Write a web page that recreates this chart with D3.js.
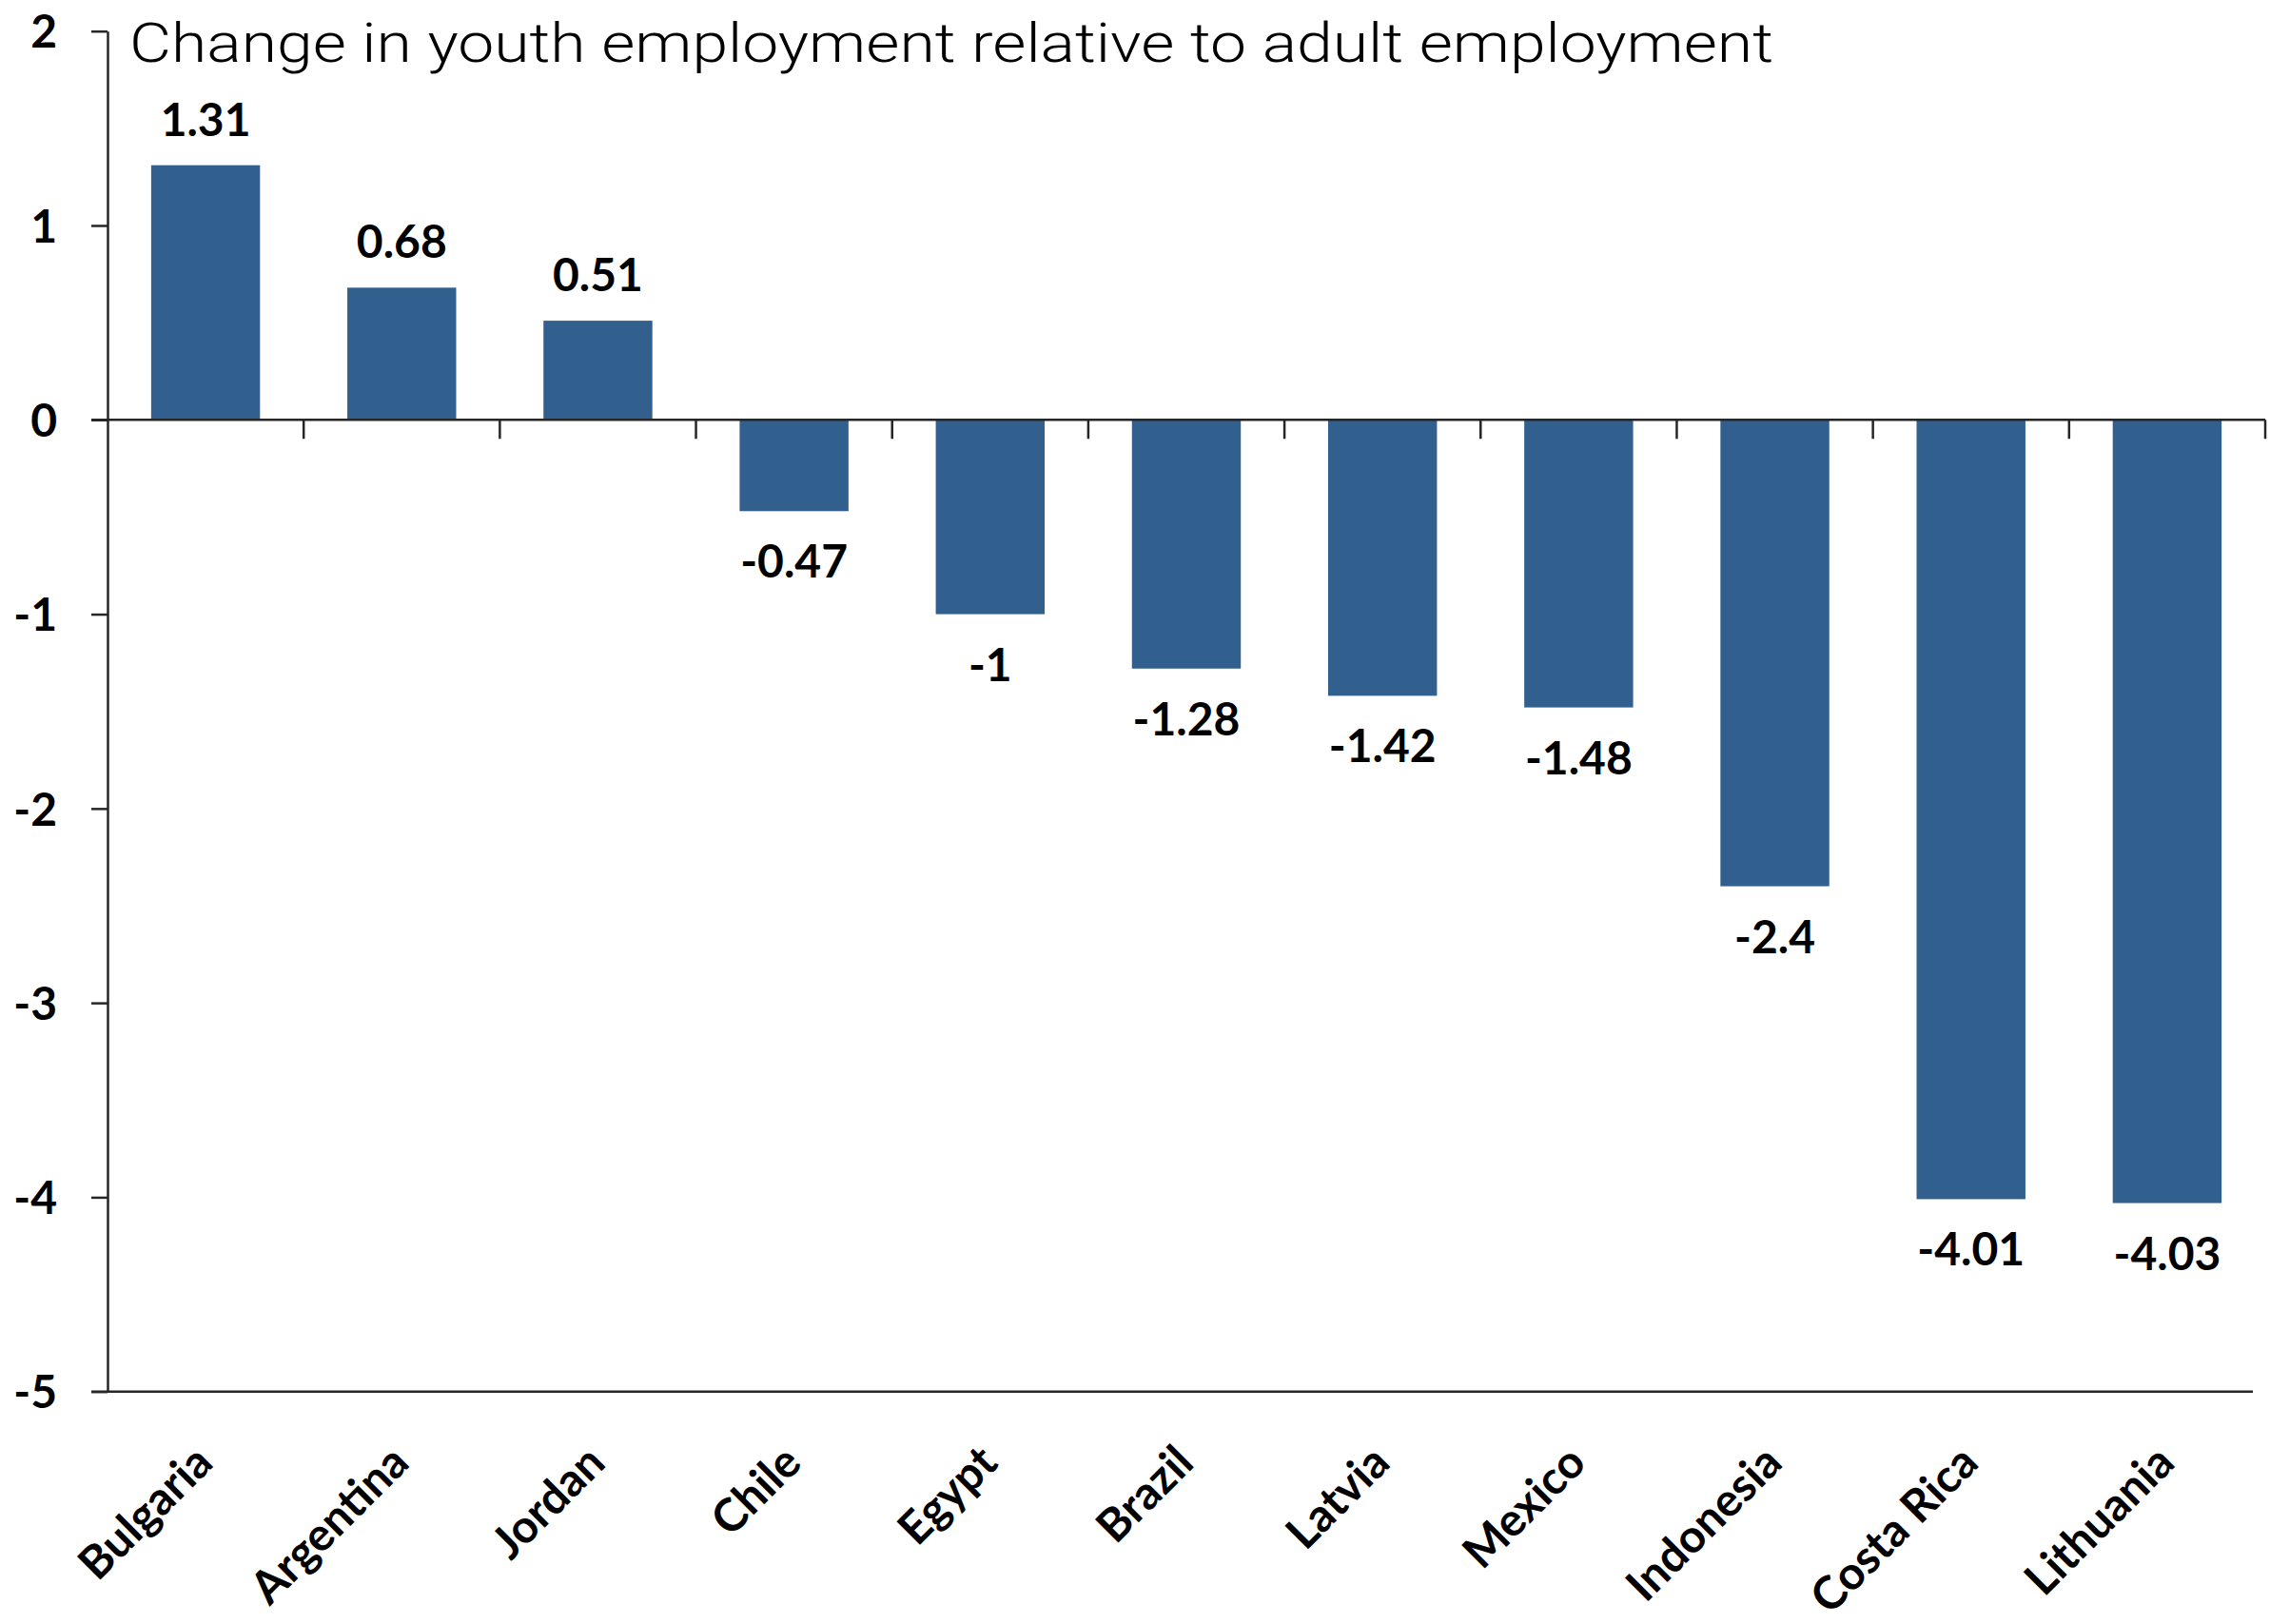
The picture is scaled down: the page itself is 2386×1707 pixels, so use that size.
<!DOCTYPE html>
<html>
<head>
<meta charset="utf-8">
<script src="https://cdn.jsdelivr.net/npm/d3@7"></script>
<style>
  html, body { margin: 0; padding: 0; background: #fff; }
  svg { display: block; }
</style>
</head>
<body>
<svg id="chart" width="2386" height="1707"></svg>
<script>
const categories = ["Bulgaria", "Argentina", "Jordan", "Chile", "Egypt", "Brazil", "Latvia", "Mexico", "Indonesia", "Costa Rica", "Lithuania"];
const values = [1.31, 0.68, 0.51, -0.47, -1, -1.28, -1.42, -1.48, -2.4, -4.01, -4.03];
const yTicks = [2, 1, 0, -1, -2, -3, -4, -5];
const title = "Change in youth employment relative to adult employment";

(function () {
const svg = d3.select("#chart");
const W = 2386, H = 1707;
svg.append("rect").attr("width", W).attr("height", H).attr("fill", "#fff");

const plotLeft = 113, plotRight = 2381, plotTop = 32.7, plotBottom = 1462.7;
const x = d3.scaleBand().domain(categories).range([plotLeft, plotRight]).paddingInner(0.445).paddingOuter(0.2225);
const y = d3.scaleLinear().domain([-5, 2]).range([plotBottom, plotTop]);

const axisColor = "#262626";
const labelFont = "Lato, 'Open Sans', sans-serif";

// bars
svg.append("g").selectAll("rect").data(values).join("rect")
  .attr("x", (d, i) => x(categories[i]))
  .attr("width", x.bandwidth())
  .attr("y", d => y(Math.max(0, d)))
  .attr("height", d => Math.abs(y(d) - y(0)))
  .attr("fill", "#31608f");

// y axis
const yAxis = d3.axisLeft(y).tickValues(yTicks).tickSize(17).tickSizeOuter(0).tickFormat(d => String(d));
const gy = svg.append("g").attr("transform", `translate(${plotLeft},0)`).call(yAxis);
gy.select(".domain").attr("stroke", axisColor).attr("stroke-width", 2.5);
gy.selectAll(".tick line").attr("stroke", axisColor).attr("stroke-width", 2.5);
gy.selectAll(".tick text")
  .attr("x", -53)
  .attr("dy", "0.36em")
  .attr("fill", "#000")
  .style("font-family", labelFont)
  .style("font-weight", "700")
  .style("font-size", "48px");

// zero line with category boundary ticks
const step = x.step();
const zeroY = y(0);
svg.append("line").attr("x1", plotLeft - 17).attr("x2", plotRight)
  .attr("y1", zeroY).attr("y2", zeroY)
  .attr("stroke", axisColor).attr("stroke-width", 2.5);
const boundaries = d3.range(1, categories.length + 1).map(k => plotLeft + k * step);
svg.append("g").selectAll("line").data(boundaries).join("line")
  .attr("x1", d => d).attr("x2", d => d)
  .attr("y1", zeroY).attr("y2", zeroY + 20)
  .attr("stroke", axisColor).attr("stroke-width", 2.5);

// bottom line at -5
svg.append("line").attr("x1", plotLeft - 17).attr("x2", 2368)
  .attr("y1", y(-5)).attr("y2", y(-5))
  .attr("stroke", axisColor).attr("stroke-width", 2.5);

// value labels
svg.append("g").selectAll("text").data(values).join("text")
  .attr("x", (d, i) => x(categories[i]) + x.bandwidth() / 2)
  .attr("y", d => d >= 0 ? y(d) - 31 : y(d) + 70)
  .attr("text-anchor", "middle")
  .attr("fill", "#000")
  .style("font-family", labelFont)
  .style("font-weight", "700")
  .style("font-size", "48px")
  .text(d => String(d));

// category labels
svg.append("g").selectAll("text").data(categories).join("text")
  .attr("transform", d => `translate(${x(d) + x.bandwidth() / 2 + 10},1540) rotate(-45)`)
  .attr("text-anchor", "end")
  .attr("fill", "#000")
  .style("font-family", labelFont)
  .style("font-weight", "700")
  .style("font-size", "48px")
  .text(d => d);

// title
svg.append("text")
  .attr("x", 136).attr("y", 65)
  .attr("textLength", 1728)
  .attr("lengthAdjust", "spacingAndGlyphs")
  .attr("fill", "#000")
  .style("font-family", "Roboto, 'Liberation Sans', sans-serif")
  .style("font-weight", "300")
  .style("font-size", "58px")
  .text(title);
})();
</script>
</body>
</html>
